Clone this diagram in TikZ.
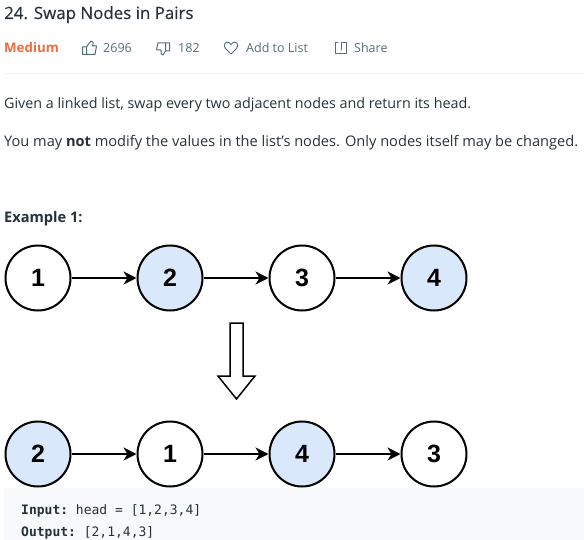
\documentclass[tikz,border=0pt]{standalone}
\usepackage{fontspec}
\setmainfont{Open Sans}
\setmonofont{DejaVu Sans Mono}
\newfontfamily\digitfont{Liberation Sans}
\newfontface\titlefont[FakeBold=0.5]{Open Sans}
\usepackage{xcolor}
\usetikzlibrary{
  arrows.meta,
  positioning
}
\definecolor{TitleInk}{RGB}{38, 50, 56}
\definecolor{BodyInk}{RGB}{38, 50, 56}
\definecolor{MediumOrange}{RGB}{239, 108, 60}
\definecolor{IconGray}{RGB}{84, 110, 122}
\definecolor{RuleGray}{RGB}{238, 238, 238}
\definecolor{CodeBack}{RGB}{247, 249, 250}
\definecolor{PairBlue}{RGB}{218, 232, 252}
\tikzset{
  listnode/.style={circle, draw=black, line width=2pt, fill=white, minimum size=65pt, inner sep=0pt, font=\fontsize{25}{25}\selectfont\bfseries\digitfont},
  swapped/.style={listnode, fill=PairBlue},
  nextptr/.style={-{Stealth[length=13pt, width=13pt, inset=4pt]}, line width=2pt, black},
  textline/.style={anchor=base west, inner sep=0pt, text=BodyInk, font=\fontsize{14.3}{17}\selectfont},
  statline/.style={anchor=base west, inner sep=0pt, text=IconGray, font=\fontsize{12.5}{15}\selectfont},
  codeline/.style={anchor=base west, inner sep=0pt, text=BodyInk, font=\fontsize{13}{16}\selectfont\ttfamily},
  iconline/.style={draw=IconGray, line width=1pt, line join=round, line cap=round}
}

\begin{document}
\begin{tikzpicture}[x=1pt, y=-1pt]
  \useasboundingbox (0,0) rectangle (584,540);
  % header
  \node[textline, font=\fontsize{16.9}{20}\titlefont, text=TitleInk] (title) at (4,19) {24. Swap Nodes in Pairs};
  \node[textline, font=\fontsize{13.3}{16}\selectfont\bfseries, text=MediumOrange] (level) at (4,53) {Medium};
  \node[statline] (likes) at (103,53) {2696};
  \node[statline] (dislikes) at (178,53) {182};
  \node[statline] (addlist) at (246,53) {Add to List};
  \node[statline] (share) at (354,53) {Share};
  % icons
  \draw[iconline] (82.5,47) rectangle (86.5,54.5) (86.5,47) -- (90,42) -- (91,41) .. controls (93.5,41) and (93.5,43) .. (92.5,46) -- (96.5,46) -- (95,54.5) -- (86.5,54.5);
  \draw[iconline] (169.5,51) rectangle (165.5,43) (165.5,43) -- (158,43) -- (156.5,50) -- (161,50) .. controls (160.5,53) and (161,55) .. (163,55) -- (165.5,51);
  \draw[iconline] (231,54) -- (225.5,48.5) .. controls (222.5,45) and (226,40.5) .. (229,42.5) -- (231,44.5) -- (233,42.5) .. controls (236,40.5) and (239.5,45) .. (236.5,48.5) -- cycle;
  \draw[iconline] (338,43) -- (335,43) -- (335,53.5) -- (346,53.5) -- (346,43) -- (341,43) -- (341,50);
  \draw[RuleGray, line width=1pt] (4,74) -- (584,74);
  % statement
  \node[textline] (line1) at (4,109) {Given a linked list, swap every two adjacent nodes and return its head.};
  \node[textline, font=\fontsize{14.6}{17}\selectfont] (line2) at (4,147) {You may \textbf{not} modify the values in the list\symbol{39}s nodes. Only nodes itself may be changed.};
  \node[textline, font=\fontsize{14.6}{17}\selectfont\bfseries] (example) at (4,223) {Example 1:};
  % list before the swap
  \node[listnode] (a1) at (38,278) {1};
  \node[swapped] (a2) at (170,278) {2};
  \node[listnode] (a3) at (302,278) {3};
  \node[swapped] (a4) at (434,278) {4};
  \foreach \from/\to in {a1/a2, a2/a3, a3/a4}
    \draw[nextptr] (\from) -- (\to);
  % big arrow
  \draw[line width=1.5pt, line join=miter, fill=white] (230,323) -- (243,323) -- (243,376) -- (255,376) -- (236.5,399) -- (218,376) -- (230,376) -- cycle;
  % list after the swap
  \node[swapped] (b1) at (38,454) {2};
  \node[listnode] (b2) at (170,454) {1};
  \node[swapped] (b3) at (302,454) {4};
  \node[listnode] (b4) at (434,454) {3};
  \foreach \from/\to in {b1/b2, b2/b3, b3/b4}
    \draw[nextptr] (\from) -- (\to);
  % code block
  \fill[CodeBack] (4,488) rectangle (584,540);
  \node[codeline] (input) at (21,514) {\textbf{Input:} head = [1,2,3,4]};
  \node[codeline] (output) at (21,536) {\textbf{Output:} [2,1,4,3]};
\end{tikzpicture}
\end{document}
